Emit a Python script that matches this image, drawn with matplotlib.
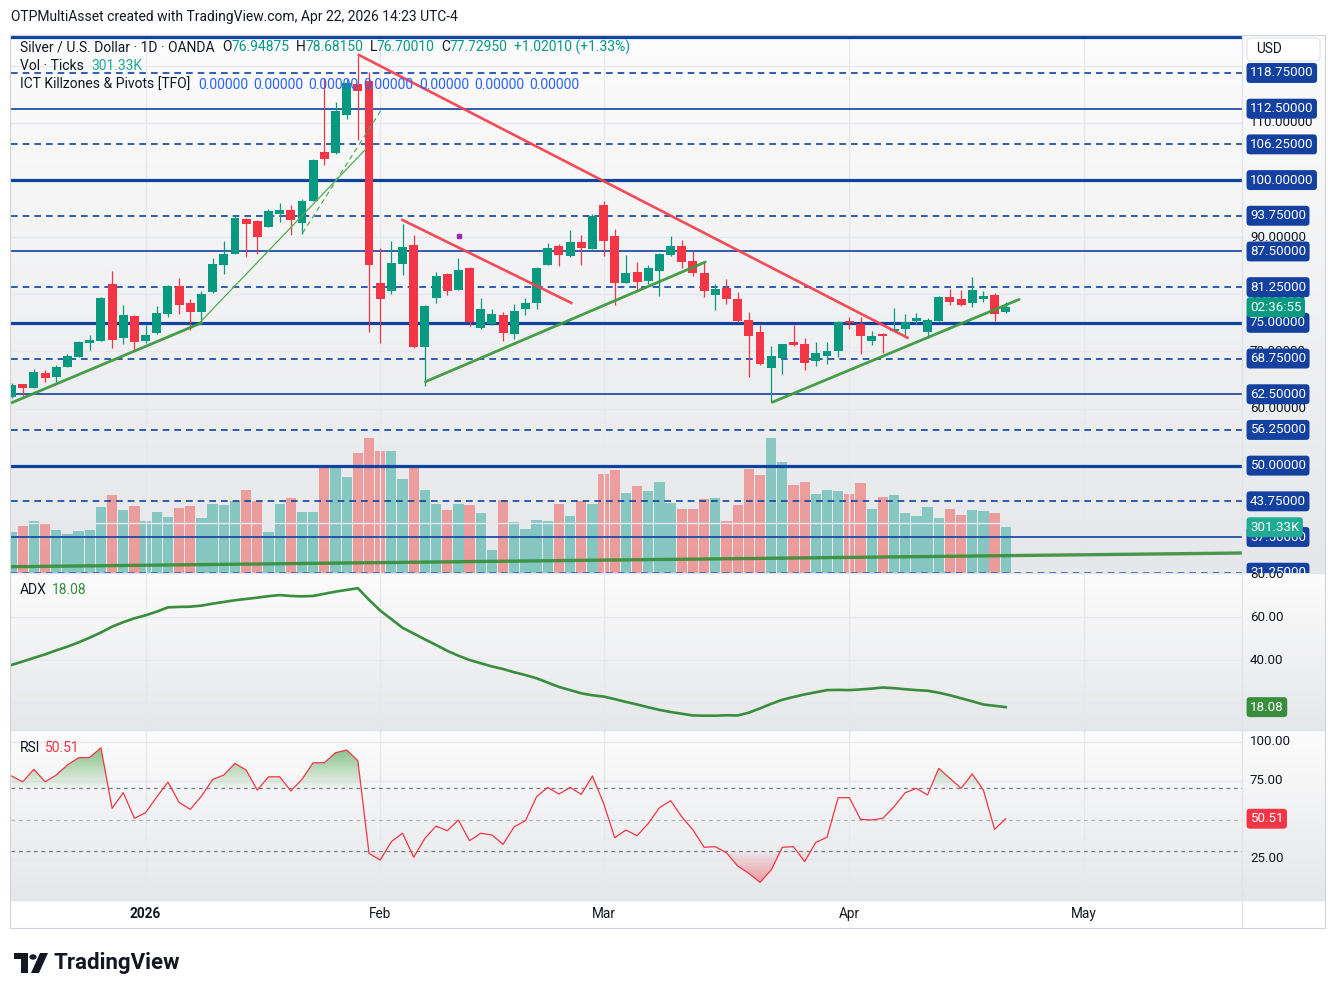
#!/usr/bin/env python

# Silver / U.S. Dollar daily chart, TradingView style:
# candles + volume overlay with pivot levels, ADX pane and RSI pane

import numpy as np
import matplotlib
matplotlib.use('Agg')
import matplotlib.pyplot as plt
from matplotlib import transforms
from matplotlib.colors import LinearSegmentedColormap, to_rgb
from matplotlib.lines import Line2D
from matplotlib.patches import Rectangle, Polygon, Circle, PathPatch, FancyBboxPatch
from matplotlib.path import Path

plt.rcParams['font.family'] = ['Roboto', 'DejaVu Sans']

# ---------------- data (bar 0 = mid Dec 2025, bar 89 = 2026-04-22) ----------------
opens = [61.96, 64.29, 63.65, 66.22, 65.58, 67.33, 69.08, 71.47, 71.88, 81.80,
         72.40, 76.20, 71.88, 73.28, 76.55, 81.45, 78.47, 76.95, 80.46, 85.18,
         87.11, 93.18, 92.82, 91.83, 94.11, 94.75, 92.53, 96.38, 104.90, 104.73,
         111.44, 116.80, 117.33, 81.97, 80.63, 85.30, 88.65, 70.80, 79.43, 83.57,
         80.83, 84.62, 74.18, 74.88, 76.40, 73.13, 77.50, 78.55, 85.20, 88.47,
         86.72, 89.17, 87.95, 95.70, 90.15, 82.04, 83.85, 82.27, 84.02, 86.82,
         88.40, 85.77, 83.67, 79.82, 81.05, 79.12, 75.45, 73.35, 67.15, 68.79,
         71.60, 71.38, 68.37, 69.24, 70.12, 75.37, 74.84, 71.87, 73.09, 73.62,
         73.97, 75.37, 73.44, 75.37, 79.57, 79.22, 78.52, 79.22, 79.92, 76.94875]
highs = [64.50, 64.35, 66.92, 66.74, 67.62, 69.55, 71.90, 72.87, 79.58, 84.13,
         78.12, 76.30, 74.62, 77.95, 81.56, 82.85, 79.23, 80.57, 86.29, 89.32,
         93.64, 93.30, 92.95, 94.92, 95.98, 95.63, 96.68, 103.68, 117.80, 113.65,
         117.68, 121.70, 118.85, 88.16, 89.32, 92.30, 90.40, 78.09, 83.92, 83.75,
         86.37, 84.75, 79.37, 77.45, 76.92, 78.32, 79.37, 84.80, 89.00, 88.82,
         91.27, 90.40, 94.07, 96.40, 91.37, 86.82, 85.60, 85.07, 87.17, 90.15,
         89.45, 87.52, 85.60, 81.75, 82.62, 80.35, 76.85, 74.57, 70.90, 71.30,
         74.57, 72.30, 71.69, 71.69, 75.37, 76.07, 76.07, 73.62, 73.27, 77.64,
         76.59, 76.77, 75.89, 79.74, 80.97, 80.79, 83.07, 80.62, 80.27, 78.68150]
lows = [61.80, 62.19, 63.60, 64.70, 64.70, 67.30, 69.00, 70.25, 71.80, 70.65,
        71.35, 70.13, 71.53, 73.05, 76.08, 76.55, 73.75, 74.80, 80.30, 83.61,
        87.10, 86.58, 87.11, 91.80, 92.71, 90.43, 90.60, 96.30, 102.68, 104.55,
        110.74, 107.00, 73.45, 71.53, 80.10, 83.40, 70.68, 63.97, 78.55, 79.96,
        80.80, 74.47, 74.00, 74.70, 71.90, 72.25, 76.45, 77.50, 85.10, 85.03,
        86.60, 85.20, 87.90, 86.65, 78.07, 82.00, 80.52, 81.75, 79.65, 86.65,
        84.60, 83.15, 79.47, 77.20, 78.25, 75.20, 65.50, 67.70, 61.10, 66.05,
        70.90, 66.70, 67.37, 67.72, 69.07, 73.85, 69.59, 71.17, 69.77, 73.60,
        72.92, 74.84, 72.39, 75.30, 78.17, 77.99, 77.82, 78.69, 75.37, 76.70010]
closes = [64.12, 63.65, 66.39, 65.40, 67.27, 69.19, 71.65, 72.00, 79.35, 72.05,
          76.37, 71.70, 72.87, 76.66, 81.45, 78.12, 76.95, 80.05, 85.24, 86.99,
          93.35, 92.36, 90.08, 94.57, 94.75, 93.06, 96.33, 103.50, 103.74, 112.08,
          116.98, 115.64, 85.18, 79.23, 85.47, 88.20, 70.80, 77.97, 83.22, 80.65,
          84.27, 75.17, 77.45, 76.57, 73.30, 77.10, 78.50, 84.62, 88.12, 86.96,
          89.17, 88.18, 93.72, 89.30, 81.98, 83.67, 82.16, 84.55, 87.00, 88.40,
          85.66, 83.67, 80.58, 80.87, 79.12, 75.27, 72.65, 67.80, 69.15, 71.25,
          71.07, 67.94, 69.77, 70.12, 75.19, 74.90, 72.74, 72.74, 72.74, 73.97,
          75.19, 75.89, 75.54, 79.57, 78.69, 78.17, 80.79, 79.74, 76.59, 77.72950]
volumes_k = [268, 308, 341, 328, 282, 255, 275, 282, 433, 513,
             414, 440, 341, 400, 367, 427, 440, 361, 453, 447,
             473, 546, 473, 268, 453, 493, 400, 400, 702, 702,
             631, 790, 889, 803, 803, 618, 702, 546, 453, 414,
             453, 447, 394, 150, 480, 334, 288, 348, 341, 453,
             374, 473, 453, 651, 678, 526, 572, 539, 598, 460,
             420, 420, 486, 493, 341, 447, 684, 645, 889, 730,
             579, 598, 519, 546, 539, 519, 592, 420, 499, 513,
             394, 374, 433, 361, 420, 381, 414, 407, 394, 301.33]
adx = [37.7, 39.3, 41.0, 42.6, 44.5, 46.2, 48.2, 50.4, 52.8, 55.5,
       57.6, 59.4, 60.8, 62.5, 64.5, 64.7, 64.8, 65.3, 66.2, 67.0,
       67.8, 68.4, 69.0, 69.7, 70.2, 69.8, 69.6, 69.8, 70.8, 71.8,
       72.6, 73.4, 68.0, 63.0, 59.0, 55.0, 52.3, 49.6, 47.0, 44.3,
       42.0, 40.0, 38.5, 37.0, 35.8, 34.3, 33.0, 31.5, 29.5, 27.5,
       26.0, 24.5, 23.6, 23.0, 21.8, 20.5, 19.3, 18.0, 16.8, 15.8,
       15.0, 14.2, 14.1, 14.1, 14.3, 14.2, 15.5, 17.5, 19.6, 21.5,
       22.8, 24.0, 25.0, 26.0, 26.1, 26.0, 26.3, 26.7, 27.2, 26.9,
       26.4, 26.0, 25.7, 24.8, 23.6, 22.2, 20.8, 19.3, 18.7, 18.08]
rsi = [77.9, 74.2, 82.2, 74.2, 78.5, 85.0, 89.6, 89.8, 96.0, 57.2,
       67.2, 50.8, 54.4, 64.5, 74.0, 61.0, 56.5, 65.0, 75.7, 78.5,
       86.0, 81.7, 68.9, 77.4, 77.4, 68.3, 75.8, 86.4, 86.4, 92.8,
       94.6, 87.7, 28.3, 24.0, 35.8, 41.2, 25.8, 37.9, 45.8, 42.8,
       49.7, 36.4, 41.2, 40.1, 34.1, 45.4, 49.2, 64.6, 70.6, 66.3,
       70.6, 66.1, 77.9, 60.4, 38.3, 43.3, 39.6, 47.5, 57.6, 62.1,
       51.8, 43.3, 32.2, 32.6, 28.7, 20.2, 15.5, 9.7, 17.6, 32.2,
       32.6, 23.0, 35.4, 38.6, 64.0, 64.0, 50.1, 49.7, 50.8, 58.2,
       67.2, 70.0, 65.7, 82.8, 76.4, 70.0, 79.2, 68.9, 43.7, 50.51]

month_idx = [12, 33, 53, 75, 96]
month_labels = ['2026', 'Feb', 'Mar', 'Apr', 'May']

pivot_levels = [31.25, 37.5, 43.75, 50.0, 56.25, 62.5, 68.75, 75.0, 81.25,
                87.5, 93.75, 100.0, 106.25, 112.5, 118.75, 125.0]
price_grid = [40, 50, 60, 70, 80, 90, 100, 110, 120]
price_axis_labels = [110, 90, 80, 70, 60]
adx_axis_labels = [80, 60, 40]
rsi_axis_labels = [100, 75, 25]

# drawings: (bar index, price) anchors
thick_green = [[(0.0, 61.0), (17.0, 75.0)],
               [(37.06, 64.7), (62.1, 85.65)],
               [(68.1, 61.1), (90.2, 79.1)]]
thin_green = [(16.9, 75.15), (31.7, 105.4)]
dashed_green = [(26.05, 90.72), (33.2, 112.6)]
red_lines = [[(31.1, 121.9), (80.2, 72.4)],
             [(35.0, 93.0), (50.1, 78.5)]]
volume_trend = [(0.0, 32.3), (110.2, 34.7)]
purple_mark = (40.1, 90.15)
countdown = '02:36:55'

# ---------------- layout helpers ----------------
W, H = 1335, 997
def fx(x): return x / W
def fy(y): return 1 - y / H

UP, DOWN = '#089981', '#f23645'
DARK = '#131722'
LINEBLUE = '#0e43a0'
GRID = '#e6e8ee'

fig = plt.figure(figsize=(W / 100, H / 100), dpi=100, facecolor='white')
renderer = fig.canvas.get_renderer()

def gradient_bg(y0, y1):
    bg = fig.add_axes([fx(11), fy(y1), fx(1325) - fx(11), fy(y0) - fy(y1)], zorder=-5)
    cmap = LinearSegmentedColormap.from_list('g', ['#e6e7ea', '#fcfcfc'])
    bg.imshow(np.linspace(0, 1, 256).reshape(-1, 1), cmap=cmap, aspect='auto',
              origin='lower', extent=[0, 1, 0, 1])
    bg.axis('off')

pane_rows = {}

def pane(y0, y1, z=0):
    a = fig.add_axes([fx(11), fy(y1), fx(1242) - fx(11), fy(y0) - fy(y1)], zorder=z)
    a.patch.set_visible(False)
    for s in a.spines.values():
        s.set_visible(False)
    a.set_yticks([])
    a.tick_params(axis='both', length=0)
    pane_rows[a] = (y0, y1)
    return a

gradient_bg(35, 573)
gradient_bg(573, 730)
gradient_bg(730, 900)

n = len(opens)
idx = np.arange(n)
o = np.array(opens); c = np.array(closes)
h = np.array(highs); l = np.array(lows)
up = c >= o
XLIM = (-0.05, 110.15)

# ---------------- main pane ----------------
ax = pane(35, 573, z=0)
axv = pane(35, 573, z=-1)
ax.set_xlim(*XLIM); axv.set_xlim(*XLIM)
ax.set_ylim(31.2, 125.4)
axv.set_ylim(0, 3543)
ax.set_xticks([]); axv.set_xticks([])

vcol = ['#26a69a' if u else '#ef5350' for u in up]
axv.bar(idx, volumes_k, width=0.92, color=vcol, alpha=0.5, linewidth=0)

for g in price_grid:
    ax.axhline(g, color=GRID, lw=1.0, zorder=1)
for m in month_idx:
    ax.axvline(m, color=GRID, lw=1.0, zorder=1)

for lv in pivot_levels:
    if lv % 25 == 0:
        ax.axhline(lv, color=LINEBLUE, lw=2.3, zorder=2)
    elif lv % 12.5 == 0:
        ax.axhline(lv, color=LINEBLUE, lw=1.2, zorder=2)
    else:
        ax.axhline(lv, color=LINEBLUE, lw=1.2, ls=(0, (4, 3)), zorder=2)

ccol = np.where(up, UP, DOWN)
ax.vlines(idx, l, h, colors=ccol, linewidth=0.9, zorder=3)
ax.bar(idx, np.maximum(np.abs(c - o), 0.2), bottom=np.minimum(o, c), width=0.8,
       color=ccol, linewidth=0, zorder=4)

for seg in thick_green:
    ax.plot(*zip(*seg), color='#3d9a3f', lw=2.0, alpha=0.95, zorder=5,
            solid_capstyle='round')
ax.plot(*zip(*thin_green), color='#4caf50', lw=0.9, zorder=5)
ax.plot(*zip(*dashed_green), color='#4caf50', lw=0.9, ls=(0, (4, 3)), zorder=5)
for seg in red_lines:
    ax.plot(*zip(*seg), color='#f5424f', lw=1.9, alpha=0.95, zorder=5)
ax.plot(*zip(*volume_trend), color='#2e8b2e', lw=2.4, alpha=0.85, zorder=5)
ax.plot([purple_mark[0]], [purple_mark[1]], marker='s', ms=2.5, color='#9c27b0',
        zorder=6)

# ---------------- ADX pane ----------------
ax_adx = pane(573, 730)
ax_adx.set_xlim(*XLIM)
ax_adx.set_ylim(7.44, 80.47)
ax_adx.set_xticks([])
for g in [20, 40, 60]:
    ax_adx.axhline(g, color=GRID, lw=1.0, zorder=1)
for m in month_idx:
    ax_adx.axvline(m, color=GRID, lw=1.0, zorder=1)
ax_adx.plot(idx, adx, color='#388e3c', lw=1.9, zorder=3)

# ---------------- RSI pane ----------------
ax_rsi = pane(730, 900)
ax_rsi.set_xlim(*XLIM)
ax_rsi.set_ylim(-1.6, 107.4)
for g in [25, 75, 100]:
    ax_rsi.axhline(g, color=GRID, lw=1.0, zorder=1)
for m in month_idx:
    ax_rsi.axvline(m, color=GRID, lw=1.0, zorder=1)
ax_rsi.axhline(70, color='#787b86', lw=0.9, ls=(0, (3, 3)), zorder=2)
ax_rsi.axhline(30, color='#787b86', lw=0.9, ls=(0, (3, 3)), zorder=2)
ax_rsi.axhline(50, color='#787b86', lw=0.9, ls=(0, (3, 3)), alpha=0.5, zorder=2)

rv = np.array(rsi)

def grad_fill(a, y, level, above, color, a_level, a_far, far):
    if above:
        coll = a.fill_between(idx, y, level, where=y >= level, interpolate=True,
                              facecolor='none', edgecolor='none')
    else:
        coll = a.fill_between(idx, y, level, where=y <= level, interpolate=True,
                              facecolor='none', edgecolor='none')
    paths = coll.get_paths()
    if not paths:
        return
    patch = PathPatch(Path.make_compound_path(*paths), facecolor='none',
                      edgecolor='none', transform=a.transData)
    a.add_patch(patch)
    rgba = np.zeros((256, 1, 4))
    rgba[..., :3] = to_rgb(color)
    lo, hi = (level, far) if above else (far, level)
    if above:
        rgba[:, 0, 3] = np.linspace(a_level, a_far, 256)
    else:
        rgba[:, 0, 3] = np.linspace(a_far, a_level, 256)
    im = a.imshow(rgba, extent=[idx[0], idx[-1], lo, hi], origin='lower',
                  aspect='auto', zorder=2)
    im.set_clip_path(patch)

grad_fill(ax_rsi, rv, 70, True, '#43a047', 0.03, 0.75, 100)
grad_fill(ax_rsi, rv, 30, False, '#f23645', 0.03, 0.65, 0)
ax_rsi.plot(idx, rv, color='#f23645', lw=0.9, zorder=3)
ax_rsi.set_xlim(*XLIM)
ax_rsi.set_ylim(-1.6, 107.4)
ax_rsi.set_xticks(month_idx)
ax_rsi.set_xticklabels(month_labels, fontsize=9.8, color=DARK)
ax_rsi.get_xticklabels()[0].set_fontweight('bold')
ax_rsi.tick_params(axis='x', length=0, pad=5)

# ---------------- frame lines ----------------
def fline(x0, y0, x1, y1, color='#e0e3eb', lw=1.0):
    fig.add_artist(Line2D([fx(x0), fx(x1)], [fy(y0), fy(y1)], color=color, lw=lw,
                          transform=fig.transFigure, zorder=2))

fline(11, 573, 1325, 573)
fline(11, 730, 1325, 730)
fline(11, 900, 1325, 900)
fline(1242, 35, 1242, 928)
fig.add_artist(Rectangle((fx(10), fy(928)), fx(1325) - fx(10), fy(35) - fy(928),
                         transform=fig.transFigure, fill=False, ec='#d1d4dc',
                         lw=0.8, zorder=2))

# ---------------- right scale ----------------
def scale_clip(a):
    y0, y1 = pane_rows[a]
    return transforms.TransformedBbox(
        transforms.Bbox.from_extents(fx(1242), fy(y1), fx(1325), fy(y0)),
        fig.transFigure)

def scale_text(a, val, s, color=DARK, z=3, fc=None):
    tr = transforms.blended_transform_factory(fig.transFigure, a.transData)
    kw = {}
    if fc is not None:
        kw['bbox'] = dict(boxstyle='round,pad=0.26,rounding_size=0.25', fc=fc,
                          ec='none')
    t = fig.text(fx(1250), val, s, transform=tr, fontsize=9.6, color=color,
                 va='center', ha='left', zorder=z, **kw)
    t.set_clip_box(scale_clip(a))
    t.set_clip_on(True)

for v in price_axis_labels:
    scale_text(ax, v, f'{v:.5f}')
for v in adx_axis_labels:
    scale_text(ax_adx, v, f'{v:.2f}')
for v in rsi_axis_labels:
    scale_text(ax_rsi, v, f'{v:.2f}')

for lv in pivot_levels[:-1]:
    scale_text(ax, lv, f'{lv:.5f}', color='white', z=4, fc='#1441a0')
scale_text(ax, closes[-1], countdown, color='white', z=5, fc=UP)
scale_text(axv, volumes_k[-1], f'{volumes_k[-1]:.2f}K', color='white', z=5,
           fc='#22ab94')
scale_text(ax_adx, adx[-1], f'{adx[-1]:.2f}', color='white', z=4, fc='#388e3c')
scale_text(ax_rsi, rsi[-1], f'{rsi[-1]:.2f}', color='white', z=4, fc='#f23645')

fig.add_artist(FancyBboxPatch((fx(1247), fy(61)), fx(1320) - fx(1247), fy(38) - fy(61),
                              boxstyle='round,pad=0,rounding_size=0.004',
                              transform=fig.transFigure, fc='white', ec='#e0e3eb',
                              lw=0.8, zorder=3))
fig.text(fx(1256), fy(49), 'USD', fontsize=9.8, color=DARK, va='center', zorder=4)

# ---------------- legends / header ----------------
def text_run(x, y, parts, size=10):
    for s, col, gap in parts:
        t = fig.text(fx(x), fy(y), s, color=col, fontsize=size, va='center',
                     ha='left', zorder=6)
        x += t.get_window_extent(renderer=renderer).width + gap

fig.text(fx(11), fy(17), 'OTPMultiAsset created with TradingView.com, Apr 22, 2026 14:23 UTC-4',
         fontsize=10, color=DARK, va='center')

text_run(20, 47, [('Silver / U.S. Dollar · 1D · OANDA', DARK, 8),
                  ('O', DARK, 0), (f'{opens[-1]:.5f}', UP, 6),
                  ('H', DARK, 0), (f'{highs[-1]:.5f}', UP, 6),
                  ('L', DARK, 0), (f'{lows[-1]:.5f}', UP, 6),
                  ('C', DARK, 0), (f'{closes[-1]:.5f}', UP, 6),
                  ('+1.02010 (+1.33%)', UP, 0)])
text_run(20, 66, [('Vol · Ticks', DARK, 7), ('301.33K', '#22ab94', 0)])
text_run(20, 85, [('ICT Killzones & Pivots [TFO]', DARK, 8)] +
         [('0.00000', '#2962ff', 5)] * 7)
text_run(20, 590, [('ADX', DARK, 5), (f'{adx[-1]:.2f}', '#388e3c', 0)])
text_run(20, 748, [('RSI', DARK, 5), (f'{rsi[-1]:.2f}', '#f23645', 0)])

# ---------------- TradingView logo ----------------
def fpoly(pts, **kw):
    fig.add_artist(Polygon([(fx(x), fy(y)) for x, y in pts], closed=True,
                           transform=fig.transFigure, **kw))

fpoly([(14, 953), (28, 953), (28, 973), (21, 973), (21, 959), (14, 959)], fc=DARK, ec='none')
fig.add_artist(Circle((fx(33), fy(957)), 3.6 / W, transform=fig.transFigure,
                      fc=DARK, ec='none'))
fpoly([(40, 953), (48, 953), (39, 973), (31, 973)], fc=DARK, ec='none')
fig.text(fx(54), fy(963), 'TradingView', fontsize=16, fontweight='bold', color=DARK,
         va='center')

fig.savefig('out.png', dpi=100, facecolor='white')
